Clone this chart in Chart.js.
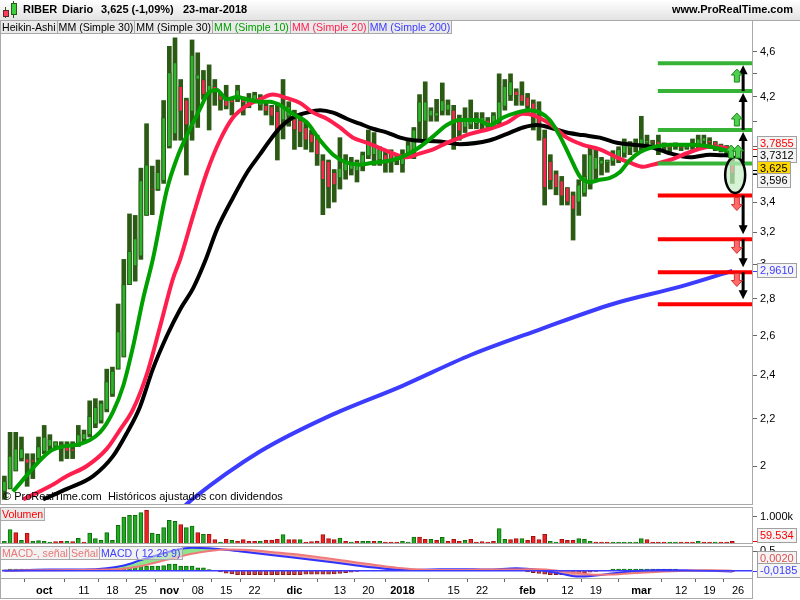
<!DOCTYPE html>
<html>
<head>
<meta charset="utf-8">
<script src="https://cdn.jsdelivr.net/npm/chart.js@4.4.1/dist/chart.umd.min.js"></script>
<style>
  body { margin: 0; background: #fff; font-family: "Liberation Sans", Arial, sans-serif; }
  #page { position: relative; width: 800px; height: 600px; overflow: hidden; background: #fff; }
  canvas { position: absolute; left: 0; }
  .frame { position: absolute; left: 0; width: 753px; border: 1px solid #a9a9a9; box-sizing: border-box; pointer-events: none; }
  #header { position: absolute; left: 0; top: 0; width: 800px; height: 21px; box-sizing: border-box;
            background: linear-gradient(#ffffff, #e3e3e3); border-bottom: 1px solid #a9a9a9; }
  #header span { position: absolute; top: 3px; font-size: 11px; font-weight: bold; color: #000; white-space: nowrap; }
  .tags { position: absolute; display: flex; font-size: 10.6px; line-height: 12px; white-space: nowrap; }
  .tags div { height: 12px; padding: 0 1px; background: rgba(232,232,232,0.9); border-right: 1px solid #a9a9a9; border-bottom: 1px solid #a9a9a9; }
  #macdLegend div { background: rgba(232,232,232,0.55); }
  #watermark { position: absolute; left: 3px; top: 490px; font-size: 11px; color: #000; white-space: pre; }
  .ic { position: absolute; box-sizing: border-box; }
</style>
</head>
<body>
<div id="page">
  <canvas id="main" width="800" height="485" style="top:20px"></canvas>
  <canvas id="vol" width="800" height="36" style="top:507px"></canvas>
  <canvas id="macd" width="800" height="54" style="top:546px"></canvas>

  <div class="frame" style="top:20px;height:485px"></div>
  <div class="frame" style="top:507px;height:37px"></div>
  <div class="frame" style="top:546px;height:33px"></div>
  <div class="frame" style="top:578px;height:21px"></div>

  <div id="header">
    <div class="ic" style="left:5px;top:7px;width:1px;height:11px;background:#2b5a14"></div>
    <div class="ic" style="left:3px;top:10px;width:6px;height:7px;background:#ff3b5c;border:1px solid #5a2a2a"></div>
    <div class="ic" style="left:13px;top:1px;width:1px;height:17px;background:#2b5a14"></div>
    <div class="ic" style="left:11px;top:3px;width:6px;height:12px;background:#3fcf3f;border:1px solid #2b5a14"></div>
    <span style="left:23px">RIBER</span>
    <span style="left:62px">Diario</span>
    <span style="left:101px">3,625 (-1,09%)</span>
    <span style="left:183px">23-mar-2018</span>
    <span style="right:7px">www.ProRealTime.com</span>
  </div>

  <div class="tags" style="left:1px;top:21px">
    <div>Heikin-Ashi</div>
    <div>MM (Simple 30)</div>
    <div>MM (Simple 30)</div>
    <div style="color:#00a000">MM (Simple 10)</div>
    <div style="color:#ff1f4f">MM (Simple 20)</div>
    <div style="color:#3c3cff">MM (Simple 200)</div>
  </div>
  <div id="watermark">© ProRealTime.com  Históricos ajustados con dividendos</div>
  <div class="tags" style="left:1px;top:508px">
    <div style="color:#ff0000">Volumen</div>
  </div>
  <div class="tags" id="macdLegend" style="left:1px;top:547px">
    <div style="color:#e87878">MACD-, señal</div>
    <div style="color:#e87878">Señal</div>
    <div style="color:#4040ff">MACD ( 12 26 9)</div>
  </div>
</div>

<script>
// trading sessions shown on the time axis (last three are empty future slots)
const sessionDays = {
  '2017-09': [21,22,25,26,27,28,29],
  '2017-10': [2,3,4,5,6,9,10,11,12,13,16,17,18,19,20,23,24,25,26,27,30,31],
  '2017-11': [1,2,3,6,7,8,9,10,13,14,15,16,17,20,21,22,23,24,27,28,29,30],
  '2017-12': [1,4,5,6,7,8,11,12,13,14,15,18,19,20,21,22,27,28,29],
  '2018-01': [2,3,4,5,8,9,10,11,12,15,16,17,18,19,22,23,24,25,26,29,30,31],
  '2018-02': [1,2,5,6,7,8,9,12,13,14,15,16,19,20,21,22,23,26,27,28],
  '2018-03': [1,2,5,6,7,8,9,12,13,14,15,16,19,20,21,22,23,26,27,28]
};
const days = Object.entries(sessionDays).flatMap(([m, ds]) => ds.map(d => m + '-' + String(d).padStart(2, '0')));

const xTickDates = ['2017-10-02','2017-10-11','2017-10-18','2017-10-25','2017-11-01','2017-11-08','2017-11-15','2017-11-22',
  '2017-12-01','2017-12-13','2017-12-20','2018-01-02','2018-01-15','2018-01-22','2018-02-01','2018-02-12','2018-02-19',
  '2018-03-01','2018-03-12','2018-03-19','2018-03-26'];
const xTickText = ['oct','11','18','25','nov','08','15','22','dic','13','20','2018','15','22','feb','12','19','mar','12','19','26'];
const xTickBold = [1,0,0,0,1,0,0,0,1,0,0,1,0,0,1,0,0,1,0,0,0];

const priceTicks = [2, 2.2, 2.4, 2.6, 2.8, 3, 3.2, 3.4, 3.6, 3.8, 4, 4.2, 4.4, 4.6];
const priceTickText = ['2','2,2','2,4','2,6','2,8','3','3,2','3,4','3,6','3,8','','4,2','','4,6'];

// Heikin-Ashi candles: [open, high, low, close]
const candles = [
  [1.90,1.96,1.87,1.94],[1.91,2.14,1.91,2.04],[1.98,2.14,1.98,2.07],[2.03,2.12,2.02,2.07],[2.03,2.05,1.92,2.01],
  [2.025,2.05,1.95,2.015],[2.03,2.12,2.02,2.08],[2.06,2.17,2.05,2.12],[2.08,2.13,2.06,2.11],[2.08,2.10,2.07,2.10],
  [2.09,2.10,2.02,2.07],[2.08,2.10,2.03,2.06],[2.07,2.10,2.03,2.06],[2.09,2.17,2.08,2.13],[2.11,2.15,2.10,2.135],
  [2.13,2.28,2.12,2.21],[2.175,2.29,2.16,2.25],[2.19,2.28,2.18,2.27],[2.24,2.43,2.23,2.37],[2.31,2.44,2.30,2.42],
  [2.43,2.77,2.43,2.62],[2.49,3.03,2.49,2.88],[2.88,3.32,2.88,3.08],[2.99,3.31,2.90,3.16],[3.05,3.64,3.03,3.55],
  [3.31,3.98,3.31,3.665],[3.49,3.655,3.315,3.48],[3.486,3.70,3.48,3.61],[3.55,4.17,3.53,4.03],[3.80,4.65,3.79,4.41],
  [3.90,4.73,3.85,4.50],[4.29,4.35,3.85,4.08],[4.175,4.19,3.59,3.97],[4.08,4.71,3.85,4.57],[4.35,4.59,3.95,4.39],
  [4.35,4.43,4.18,4.22],[4.22,4.48,3.93,4.30],[4.29,4.35,4.13,4.26],[4.22,4.23,4.09,4.17],[4.19,4.30,4.10,4.12],
  [4.175,4.19,4.05,4.15],[4.175,4.30,4.16,4.26],[4.175,4.20,4.05,4.15],[4.15,4.23,4.11,4.20],[4.175,4.24,4.16,4.22],
  [4.13,4.22,4.09,4.19],[4.13,4.15,4.05,4.08],[4.12,4.13,3.97,4.04],[4.08,4.15,3.70,3.93],[4.01,4.35,3.86,4.12],
  [4.04,4.16,3.96,4.12],[4.02,4.09,3.78,3.93],[4.01,4.05,3.80,3.91],[3.95,4.00,3.78,3.85],[3.90,3.93,3.76,3.83],
  [3.87,3.89,3.66,3.74],[3.70,3.74,3.315,3.556],[3.69,3.70,3.36,3.50],[3.61,3.63,3.40,3.52],[3.57,3.87,3.49,3.64],
  [3.62,3.74,3.56,3.69],[3.63,3.72,3.59,3.68],[3.62,3.70,3.54,3.69],[3.66,3.76,3.62,3.74],[3.73,3.93,3.71,3.84],
  [3.74,3.91,3.66,3.82],[3.70,3.80,3.66,3.78],[3.74,3.777,3.61,3.69],[3.75,3.777,3.61,3.68],[3.71,3.74,3.665,3.69],
  [3.665,3.777,3.61,3.74],[3.74,3.853,3.72,3.815],[3.777,3.95,3.71,3.931],[3.99,4.22,3.85,4.16],[4.00,4.33,3.85,4.16],
  [4.04,4.11,4.00,4.09],[4.04,4.18,4.00,4.07],[4.08,4.32,4.05,4.17],[4.09,4.175,4.05,4.14],[4.09,4.13,3.78,4.00],
  [4.01,4.05,3.85,3.92],[3.95,4.11,3.91,4.03],[3.97,4.175,3.94,4.02],[3.98,4.07,3.94,4.03],[3.99,4.07,3.92,4.03],
  [4.01,4.03,3.95,3.97],[3.99,4.07,3.97,4.05],[4.00,4.40,3.97,4.16],[4.12,4.35,4.09,4.29],[4.21,4.40,4.17,4.33],
  [4.25,4.27,4.13,4.21],[4.22,4.33,4.13,4.16],[4.20,4.23,4.05,4.12],[4.15,4.175,3.93,4.04],[4.05,4.16,3.85,3.97],
  [3.87,3.93,3.38,3.50],[3.69,3.74,3.49,3.55],[3.60,3.62,3.45,3.50],[3.55,3.58,3.38,3.44],[3.50,3.50,3.38,3.40],
  [3.45,3.47,3.15,3.35],[3.40,3.556,3.31,3.52],[3.46,3.74,3.44,3.58],[3.52,3.79,3.49,3.74],[3.63,3.78,3.556,3.72],
  [3.67,3.72,3.59,3.70],[3.68,3.70,3.61,3.70],[3.69,3.77,3.66,3.75],[3.72,3.80,3.68,3.78],[3.75,3.86,3.72,3.84],
  [3.79,3.84,3.74,3.81],[3.80,3.86,3.76,3.82],[3.80,4.04,3.77,3.86],[3.83,3.89,3.79,3.85],[3.84,3.85,3.81,3.83],
  [3.84,3.89,3.74,3.81],[3.82,3.83,3.77,3.80],[3.81,3.82,3.76,3.79],[3.80,3.83,3.78,3.81],[3.80,3.82,3.77,3.79],
  [3.79,3.82,3.78,3.80],[3.80,3.86,3.78,3.83],[3.81,3.89,3.79,3.86],[3.84,3.89,3.81,3.87],[3.85,3.87,3.79,3.83],
  [3.84,3.84,3.77,3.81],[3.82,3.82,3.76,3.79],[3.80,3.81,3.74,3.76],[3.70,3.72,3.53,3.60]
];

// moving averages: [session index, price]
const ma10 = [[1.5,1.90],[8.0,2.06],[10.3,2.08],[13.3,2.09],[16.8,2.14],[19.1,2.23],[20.9,2.35],[22.6,2.54],[24.4,2.80],
  [26.1,3.03],[28.6,3.49],[30.4,3.72],[32.1,3.89],[34.4,4.10],[35.8,4.23],[37.4,4.26],[39.1,4.18],[40.9,4.20],[42.7,4.18],
  [44.9,4.16],[46.7,4.16],[48.5,4.13],[50.7,4.06],[53.2,3.99],[55.5,3.85],[57.8,3.74],[60.2,3.68],[62.5,3.665],[64.8,3.68],
  [68.3,3.70],[70.8,3.74],[73.1,3.80],[75.4,3.88],[77.8,3.97],[80.1,4.01],[83.1,4.01],[85.4,3.97],[87.7,4.03],[90.1,4.07],
  [92.4,4.09],[94.2,4.07],[95.9,4.01],[97.7,3.88],[99.5,3.72],[101.2,3.58],[103.0,3.54],[104.7,3.556],[106.5,3.57],
  [108.2,3.61],[110.0,3.70],[111.8,3.76],[113.5,3.79],[117.0,3.815],[120.6,3.815],[124.1,3.80],[128,3.76]];
const ma20 = [[3.3,1.87],[8.0,1.92],[11.0,1.96],[14.5,2.00],[18.0,2.07],[20.3,2.15],[22.6,2.24],[25.1,2.41],[27.4,2.65],
  [29.6,2.91],[30.9,3.03],[33.2,3.31],[35.6,3.61],[37.9,3.85],[40.2,4.03],[42.7,4.13],[44.9,4.18],[47.2,4.22],[49.7,4.19],
  [52.0,4.15],[54.3,4.07],[56.7,4.02],[59.0,3.95],[61.3,3.87],[63.8,3.83],[66.0,3.79],[68.3,3.75],[70.8,3.72],[73.1,3.75],
  [75.4,3.78],[77.8,3.83],[80.1,3.87],[81.9,3.90],[85.4,3.94],[88.4,3.99],[91.2,4.06],[92.9,4.05],[95.9,3.98],[98.9,3.87],
  [101.7,3.815],[104.7,3.78],[107.7,3.72],[110.0,3.68],[112.3,3.65],[113.5,3.66],[117.0,3.70],[120.6,3.76],[124.1,3.80],
  [128,3.7855]];
const ma30 = [[6.8,1.87],[11.0,1.91],[15.6,1.96],[19.1,2.04],[21.6,2.14],[23.8,2.25],[26.1,2.43],[28.6,2.60],[30.9,2.74],
  [33.2,2.86],[35.3,3.02],[37.4,3.22],[40.2,3.43],[42.7,3.61],[44.9,3.74],[46.7,3.85],[48.5,3.95],[50.7,4.03],[53.2,4.07],
  [55.5,4.09],[57.8,4.07],[60.2,4.02],[62.5,3.98],[64.8,3.94],[67.3,3.91],[69.6,3.87],[71.9,3.85],[76.6,3.84],[80.1,3.82],
  [85.4,3.85],[88.4,3.90],[91.2,3.95],[93.7,3.97],[95.9,3.95],[98.9,3.91],[101.7,3.89],[104.7,3.87],[107.7,3.83],
  [110.5,3.815],[113.5,3.80],[117.0,3.75],[120.6,3.72],[124.1,3.74],[128,3.7312]];
const ma200 = [[31.4,1.84],[33,1.87],[45,2.06],[57,2.21],[70,2.35],[82,2.50],[94,2.63],[107,2.77],[119,2.87],[128,2.961]];

// support / resistance levels and signal marks
const upLevels = [4.494, 4.250, 3.930, 3.675];
const downLevels = [3.446, 3.155, 2.952, 2.768];
const upIcons = [[128.8,4.38],[128.8,4.01],[127.8,3.76],[129.0,3.76]];
const downIcons = [[128.8,3.39],[128.8,3.11],[128.8,2.91]];
const focusMark = [128.5, 3.59];

const mainTagValues = [3.7855, 3.7312, 3.625, 3.596, 2.9610];
const mainTagText = ['3,7855','3,7312','3,625','3,596','2,9610'];

// volume in thousands, g = up day, r = down day
const volumes = [65,513,397,103,385,64,90,64,38,50, 64,64,50,180,38,385,167,103,397,103,
  680,1000,1064,1064,1167,1256,385,333,590,872, 833,705,590,654,397,333,333,128,38,141,
  103,77,128,64,64,64,115,115,154,320, 128,128,128,38,50,77,320,167,128,192,
  64,38,64,64,64,64,64,38,38,25, 64,38,231,231,141,141,103,218,64,141,
  64,103,141,38,50,38,64,551,141,128, 167,167,103,257,128,333,64,38,141,103,
  103,167,154,64,25,25,25,25,25,25, 25,25,167,128,38,25,25,25,25,25, 25,25,64,25,25,25,25,25,59.534];
const volumeDir = 'ggrgrggggr' + 'rgrgrggggg' + 'gggggrgggg' + 'grggrgrrgr' + 'grrrrgrrrg' + 'rrgrrrrrrg' +
  'rgrggrgrrr' + 'gggrrgrgrr' + 'rgrrrrrggr' + 'rgrrrrggrr' + 'rgggrrrggg' + 'gggrrrrggr' + 'rrgrrgrrr';
const volTicks = [1000];
const volTickText = ['1.000k'];
const volTagValues = [59.534];
const volTagText = ['59.534'];

// MACD (12 26 9)
const macdLine = [[0,0.00],[8,0.03],[14,0.03],[18,0.06],[21,0.13],[24,0.27],[27,0.40],[30,0.52],[33,0.58],[36,0.57],
  [39,0.53],[42,0.48],[48,0.38],[54,0.28],[60,0.17],[65,0.08],[70,0.02],[75,0.03],[80,0.04],[85,0.03],[90,0.06],[94,0.02],
  [98,-0.08],[101,-0.15],[104,-0.12],[108,-0.05],[112,0.00],[116,0.02],[120,0.01],[124,0.00],[128,-0.0185]];
const signalLine = [[0,0.00],[8,0.01],[14,0.02],[18,0.03],[21,0.05],[24,0.12],[27,0.22],[30,0.33],[33,0.43],[36,0.50],
  [39,0.54],[42,0.53],[48,0.46],[54,0.37],[60,0.25],[65,0.15],[70,0.06],[75,0.02],[80,0.02],[85,0.03],[90,0.03],[94,0.04],
  [98,-0.01],[101,-0.06],[104,-0.10],[108,-0.09],[112,-0.05],[116,-0.02],[120,0.00],[124,0.01],[128,0.002]];
const macdHist = [0.02,0.04,0.04,0.04,0.04,0.04,0.04,0.04,0.03,0.03, 0.01,0.01,0,0,0.01,0.02,0.03,0.04,0.04,0.05,
  0.07,0.09,0.10,0.12,0.12,0.12,0.12,0.12,0.13,0.17, 0.17,0.12,0.12,0.12,0.07,0.07,0.03,0.01,-0.03,-0.06,
  -0.08,-0.1,-0.1,-0.1,-0.1,-0.1,-0.1,-0.1,-0.1,-0.1, -0.1,-0.1,-0.1,-0.09,-0.09,-0.09,-0.09,-0.09,-0.08,-0.07,
  -0.05,-0.04,-0.02,0,0,0,0,0,0,0, 0,0,0.03,0.03,0.03,0.03,0.03,0.03,0.03,0.03,
  0.03,0,0,0,0,0,0,0,0,0, 0,0,-0.03,-0.05,-0.07,-0.09,-0.1,-0.1,-0.1,-0.1,
  -0.09,-0.08,-0.06,-0.04,-0.02,0,0,0.04,0.04,0.04, 0.04,0.04,0.04,0.04,0.04,0.04,0.04,0.04,0.04,0,
  0,0,0,0,0,0,0,0,-0.03];
const macdTicks = [0.5];
const macdTickText = ['0,5'];
const macdTagValues = [0.0020, -0.0185];
const macdTagText = ['0,0020', '-0,0185'];

// ---- styling ----
const FONT = '"Liberation Sans", Arial, sans-serif';
const col = {
  dark: '#2b5a14', up: '#2cb42c', down: '#ff2152',
  ma10: '#00a000', ma20: '#ff1f4f', ma30: '#000000', ma200: '#3c3cff',
  lvlUp: '#36b336', lvlDown: '#ff0000'
};
const mainTagColors = ['#ff0000', '#000000', '#000000', '#000000', '#3c3cff'];
const mainTagFills = ['#f4f4f4', '#f4f4f4', '#ffd700', '#f4f4f4', '#f4f4f4'];
const deco = { levelFrom: 114.9, arrowAt: 129.9 };
const X_MIN = -0.42, X_MAX = 131.46;

Chart.defaults.font.family = FONT;
Chart.defaults.font.size = 11;
Chart.defaults.color = '#000';
Chart.defaults.animation = false;

function xHidden() {
  return { type: 'linear', min: X_MIN, max: X_MAX, offset: false, display: false };
}

function rightAxis(type, min, max, ticks, texts) {
  return {
    type, min, max, position: 'right',
    afterBuildTicks(s) { s.ticks = ticks.map(v => ({ value: v })); },
    afterFit(s) { s.width = 48; s.paddingTop = 0; s.paddingBottom = 0; },
    grid: { drawOnChartArea: false, drawTicks: true, tickLength: 5, color: '#666' },
    border: { display: false },
    ticks: { padding: 3, autoSkip: false, color: '#000', font: { size: 11 }, callback: (v, i) => texts[i] }
  };
}

function drawTags(chart, values, texts, colors, fills) {
  const { ctx, chartArea, scales: { y } } = chart;
  const h = 15, gap = 12.5;
  const items = values.map((v, k) => ({ k, py: y.getPixelForValue(v), cy: y.getPixelForValue(v) }));
  const sorted = [...items].sort((a, b) => a.py - b.py);
  for (let pass = 0; pass < 40; pass++) {
    for (let n = 1; n < sorted.length; n++) {
      const d = sorted[n].cy - sorted[n - 1].cy;
      if (d < gap) { const s = (gap - d) / 2; sorted[n - 1].cy -= s; sorted[n].cy += s; }
    }
    sorted.forEach(it => { it.cy = Math.min(Math.max(it.cy, chartArea.top + h / 2), chartArea.bottom - h / 2); });
  }
  ctx.save();
  ctx.font = '11px ' + FONT;
  ctx.textBaseline = 'middle';
  const left = chartArea.right + 5;
  items.forEach(it => {
    const py = Math.round(it.py) + 0.5;
    ctx.strokeStyle = colors[it.k];
    ctx.lineWidth = 1;
    ctx.beginPath(); ctx.moveTo(chartArea.right, py); ctx.lineTo(chartArea.right + 5, py); ctx.stroke();
    const w = Math.ceil(ctx.measureText(texts[it.k]).width) + 6;
    const top = Math.round(it.cy - h / 2);
    ctx.fillStyle = fills[it.k];
    ctx.fillRect(left, top, w, h);
    ctx.strokeStyle = '#a0a0a0';
    ctx.strokeRect(left + 0.5, top + 0.5, w - 1, h - 1);
    ctx.fillStyle = colors[it.k];
    ctx.fillText(texts[it.k], left + 3, top + h / 2 + 0.5);
  });
  ctx.restore();
}

function drawArrow(ctx, px, y0, y1) {
  const dir = Math.sign(y1 - y0);
  ctx.strokeStyle = '#000'; ctx.lineWidth = 3;
  ctx.beginPath(); ctx.moveTo(px, y0); ctx.lineTo(px, y1 - dir * 7); ctx.stroke();
  ctx.fillStyle = '#000';
  ctx.beginPath(); ctx.moveTo(px, y1); ctx.lineTo(px - 4.5, y1 - dir * 9); ctx.lineTo(px + 4.5, y1 - dir * 9); ctx.closePath(); ctx.fill();
}

function blockArrow(ctx, cx, cy, up) {
  const s = up ? -1 : 1;
  ctx.beginPath();
  ctx.moveTo(cx, cy + s * 7);
  ctx.lineTo(cx + 5.5, cy + s * 1);
  ctx.lineTo(cx + 2.5, cy + s * 1);
  ctx.lineTo(cx + 2.5, cy - s * 6);
  ctx.lineTo(cx - 2.5, cy - s * 6);
  ctx.lineTo(cx - 2.5, cy + s * 1);
  ctx.lineTo(cx - 5.5, cy + s * 1);
  ctx.closePath();
  ctx.fillStyle = up ? '#4fd04f' : '#ff6a6a';
  ctx.fill();
  ctx.lineWidth = 1;
  ctx.strokeStyle = up ? '#1a8a1a' : '#d03030';
  ctx.stroke();
}

const mainDeco = {
  id: 'mainDeco',
  afterDatasetsDraw(chart) {
    const { ctx, scales: { x, y } } = chart;
    ctx.save();
    const ex = x.getPixelForValue(focusMark[0]), ey = y.getPixelForValue(focusMark[1]);
    ctx.beginPath(); ctx.ellipse(ex, ey, 10, 18, 0, 0, Math.PI * 2);
    ctx.fillStyle = 'rgba(196,238,196,0.7)'; ctx.fill();
    ctx.lineWidth = 2.5; ctx.strokeStyle = '#000'; ctx.stroke();
    const ax = x.getPixelForValue(deco.arrowAt);
    for (let k = 0; k < upLevels.length - 1; k++)
      drawArrow(ctx, ax, y.getPixelForValue(upLevels[k + 1]), y.getPixelForValue(upLevels[k]) + 2);
    for (let k = 0; k < downLevels.length - 1; k++)
      drawArrow(ctx, ax, y.getPixelForValue(downLevels[k]), y.getPixelForValue(downLevels[k + 1]) - 5);
    upIcons.forEach(([i, v]) => blockArrow(ctx, x.getPixelForValue(i), y.getPixelForValue(v), true));
    downIcons.forEach(([i, v]) => blockArrow(ctx, x.getPixelForValue(i), y.getPixelForValue(v), false));
    ctx.restore();
  },
  afterDraw(chart) { drawTags(chart, mainTagValues, mainTagText, mainTagColors, mainTagFills); }
};

function lineSet(points, color, width, order) {
  return {
    type: 'line', data: points.map(([i, v]) => ({ x: i, y: v })),
    borderColor: color, borderWidth: width, pointRadius: 0, fill: false,
    cubicInterpolationMode: 'monotone', order, clip: 0
  };
}

function levelSet(v, color) {
  return { type: 'line', data: [{ x: deco.levelFrom, y: v }, { x: X_MAX, y: v }], borderColor: color,
    borderWidth: 4, pointRadius: 0, fill: false, order: 1, clip: 0 };
}

const baseOptions = {
  responsive: false,
  animation: false,
  layout: { padding: { left: 2, right: 0, top: 0, bottom: 0 } },
  plugins: { legend: { display: false }, tooltip: { enabled: false } }
};

// ---- price panel ----
new Chart(document.getElementById('main'), {
  type: 'bar',
  data: {
    datasets: [
      ...upLevels.map(v => levelSet(v, col.lvlUp)),
      ...downLevels.map(v => levelSet(v, col.lvlDown)),
      lineSet(ma10, col.ma10, 4, 2),
      lineSet(ma20, col.ma20, 4, 3),
      lineSet(ma30, col.ma30, 4, 4),
      lineSet(ma200, col.ma200, 4, 5),
      {
        type: 'bar', data: candles.map((c, i) => ({ x: i, y: [c[0], c[3]] })),
        backgroundColor: candles.map(c => c[3] >= c[0] ? col.up : col.down),
        borderColor: col.dark, borderWidth: 1, borderSkipped: false,
        barThickness: 4, minBarLength: 2, grouped: false, order: 6
      },
      {
        type: 'bar', data: candles.map((c, i) => ({ x: i, y: [c[2], c[1]] })),
        backgroundColor: col.dark, barThickness: 4, grouped: false, order: 7
      }
    ]
  },
  options: Object.assign({}, baseOptions, {
    scales: {
      x: xHidden(),
      y: rightAxis('logarithmic', 1.8492, 4.9028, priceTicks, priceTickText)
    }
  }),
  plugins: [mainDeco]
});

// ---- volume panel ----
new Chart(document.getElementById('vol'), {
  type: 'bar',
  data: {
    datasets: [{
      data: volumes.map((v, i) => ({ x: i, y: v })),
      backgroundColor: volumeDir.split('').map(d => d === 'g' ? '#22aa22' : '#ee2222'),
      borderColor: volumeDir.split('').map(d => d === 'g' ? '#0b6e0b' : '#a01010'),
      borderWidth: 1, barThickness: 4, minBarLength: 1, grouped: false
    }]
  },
  options: Object.assign({}, baseOptions, {
    scales: { x: xHidden(), y: rightAxis('linear', 0, 1384.6, volTicks, volTickText) }
  }),
  plugins: [{ id: 'volTags', afterDraw(c) { drawTags(c, volTagValues, volTagText, ['#ff0000'], ['#f4f4f4']); } }]
});

// ---- MACD panel with the time axis ----
new Chart(document.getElementById('macd'), {
  type: 'bar',
  data: {
    datasets: [
      { type: 'line', data: [{ x: X_MIN, y: 0 }, { x: X_MAX, y: 0 }], borderColor: '#3c3cff', borderWidth: 1.5,
        pointRadius: 0, fill: false, order: 2, clip: 0 },
      Object.assign(lineSet(macdLine, '#3232ff', 2, 4), {
        fill: { target: 2, above: 'rgba(130,225,130,0.9)', below: 'rgba(238,150,150,0.9)' } }),
      lineSet(signalLine, '#f07a7a', 2, 3),
      {
        type: 'bar', data: macdHist.map((v, i) => ({ x: i, y: v })),
        backgroundColor: macdHist.map(v => v >= 0 ? '#22aa22' : '#cc4444'),
        borderColor: macdHist.map(v => v >= 0 ? '#0b6e0b' : '#8a1c1c'),
        borderWidth: 1, barThickness: 4, grouped: false, order: 5
      }
    ]
  },
  options: Object.assign({}, baseOptions, {
    scales: {
      x: {
        type: 'linear', min: X_MIN, max: X_MAX, offset: false, position: 'bottom',
        afterBuildTicks(s) { s.ticks = xTickDates.map(d => ({ value: days.indexOf(d) })); },
        afterFit(s) { s.height = 22; s.paddingLeft = 0; s.paddingRight = 0; },
        grid: { drawOnChartArea: false, drawTicks: true, tickLength: 4, color: '#666' },
        border: { display: false },
        ticks: {
          autoSkip: false, maxRotation: 0, padding: 2, color: '#000',
          callback: (v, i) => xTickText[i],
          font: ctx => ({ size: 11, weight: xTickBold[ctx.index] ? 'bold' : 'normal' })
        }
      },
      y: rightAxis('linear', -0.185, 0.627, macdTicks, macdTickText)
    }
  }),
  plugins: [{ id: 'macdTags', afterDraw(c) { drawTags(c, macdTagValues, macdTagText, ['#e05050', '#3c3cff'], ['#f4f4f4', '#f4f4f4']); } }]
});
</script>
</body>
</html>
